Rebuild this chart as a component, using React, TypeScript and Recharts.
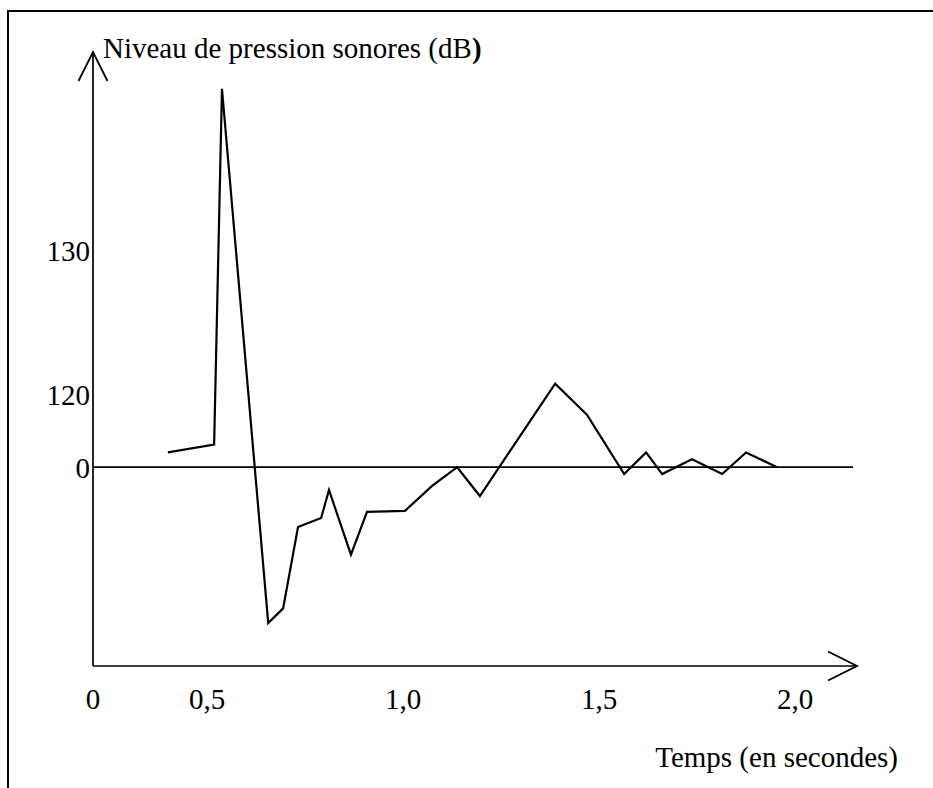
import { LineChart, Line, XAxis, YAxis, ReferenceLine } from 'recharts';

// time (s) and pressure (arbitrary units, 0 = the horizontal line)
const times = [0.4, 0.518, 0.538, 0.656, 0.694, 0.732, 0.791, 0.811, 0.867, 0.908, 1.005, 1.074, 1.138, 1.196, 1.388, 1.469, 1.564, 1.62, 1.661, 1.737, 1.814, 1.875, 1.954];
const pressure = [4.1, 6.3, 105.1, -43.3, -39.2, -16.6, -14.1, -6.3, -24.3, -12.4, -12.1, -5.2, 0, -8.0, 23.2, 14.6, -1.9, 4.1, -1.9, 2.2, -1.9, 4.1, 0];

const xMin = 0.209;
const xMax = 2.158;
const xTicks = [xMin, 0.5, 1.0, 1.5, 2.0];
const xTickLabels = ['0', '0,5', '1,0', '1,5', '2,0'];

const yMin = -55.2;
const yMax = 115.3;
const yTicks = [0, 20, 60];
const yTickLabels = ['0', '120', '130'];

const data = times.map((t, i) => ({ t, p: pressure[i] }));

const font = "'Liberation Serif', 'Times New Roman', serif";
const tickStyle = { fill: '#000', fontSize: 29, fontFamily: font };

export default function App() {
  return (
    <div style={{ position: 'relative', width: 933, height: 788, background: '#fff', overflow: 'hidden' }}>
      <style>{`body { margin: 0; }`}</style>

      <svg width={0} height={0} style={{ position: 'absolute' }}>
        <defs>
          <marker id="arrowHead" markerUnits="userSpaceOnUse" markerWidth={40} markerHeight={40}
            viewBox="0 0 40 40" refX={30} refY={20} orient="auto-start-reverse">
            <path d="M1,5.5 L30,20 L1,34.5" fill="none" stroke="#000" strokeWidth={1.8} />
          </marker>
        </defs>
      </svg>

      {/* frame: only top and left edges show */}
      <div style={{ position: 'absolute', left: 7, top: 10, width: 940, height: 800, borderTop: '2px solid #000', borderLeft: '2px solid #000' }} />

      <div style={{ position: 'absolute', left: 0, top: 0 }}>
        <LineChart width={933} height={788} data={data} margin={{ top: 52, right: 76, bottom: 92, left: 33 }}>
          <XAxis
            dataKey="t"
            type="number"
            domain={[xMin, xMax]}
            ticks={xTicks}
            tickFormatter={(v, i) => xTickLabels[i]}
            allowDataOverflow
            interval={0}
            height={30}
            tickLine={false}
            tickSize={0}
            tickMargin={22}
            tick={tickStyle}
            axisLine={{ stroke: '#000', strokeWidth: 1.7, markerEnd: 'url(#arrowHead)' }}
          />
          <YAxis
            type="number"
            domain={[yMin, yMax]}
            ticks={yTicks}
            tickFormatter={(v, i) => yTickLabels[i]}
            allowDataOverflow
            interval={0}
            width={60}
            tickLine={false}
            tickSize={0}
            tickMargin={3}
            tick={tickStyle}
            axisLine={{ stroke: '#000', strokeWidth: 1.7, markerStart: 'url(#arrowHead)' }}
          />
          <ReferenceLine
            segment={[{ x: xMin, y: 0 }, { x: 2.148, y: 0 }]}
            stroke="#000"
            strokeWidth={1.7}
            ifOverflow="extendDomain"
          />
          <Line
            type="linear"
            dataKey="p"
            stroke="#000"
            strokeWidth={2.2}
            dot={false}
            isAnimationActive={false}
          />
        </LineChart>
      </div>

      <svg width={933} height={788} style={{ position: 'absolute', left: 0, top: 0, pointerEvents: 'none' }}>
        <text x={103} y={58} fontFamily={font} fontSize={29} fill="#000">
          Niveau de pression sonores (dB<tspan fontWeight="bold">)</tspan>
        </text>
        <text x={898} y={767} textAnchor="end" fontFamily={font} fontSize={29} fill="#000">
          Temps (en secondes)
        </text>
      </svg>
    </div>
  );
}
